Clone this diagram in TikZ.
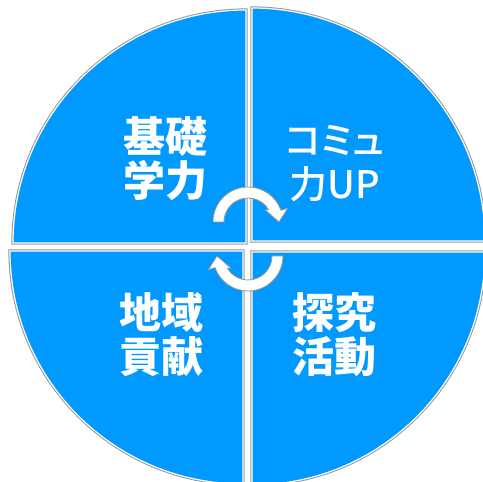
\documentclass[tikz,border=0pt]{standalone}
\usepackage{fontspec}
\newfontfamily\jpfont{Noto Sans CJK JP}
\newfontfamily\jpmedium{Noto Sans CJK JP}[UprightFont=* Medium, RawFeature=+palt]
\definecolor{quadblue}{RGB}{0,153,255}
\definecolor{edgegray}{RGB}{150,150,150}

\begin{document}
\begin{tikzpicture}[x=1pt, y=1pt,
    quadrant/.style={fill=quadblue, draw=white, line width=1.2pt,
        preaction={draw=edgegray, line width=3.2pt}},
    cyclearrow/.style={fill=white, draw=edgegray, line width=0.8pt, line join=miter},
    quadtext/.style={text=white, align=center,
        font=\jpfont\bfseries\fontsize{42}{44}\selectfont}]
    \useasboundingbox (0,0) rectangle (483,482);
    \fill[white] (0,0) rectangle (483,482);
    \clip (0,0) rectangle (483,482);

    % Quadrants
    \draw[quadrant] (246,239) -- ++(-233,0) arc[start angle=180, end angle=90, radius=233] -- cycle;
    \draw[quadrant] (252,241) -- ++(0,233) arc[start angle=90, end angle=0, radius=233] -- cycle;
    \draw[quadrant] (243,231) -- ++(0,-233) arc[start angle=270, end angle=180, radius=233] -- cycle;
    \draw[quadrant] (252,230) -- ++(233,0) arc[start angle=0, end angle=-90, radius=233] -- cycle;

    % Labels
    \node[quadtext] (basic) at (165,323) {基礎\\学力};
    \node[quadtext, font=\jpmedium\fontsize{38}{44}\selectfont] (commu) at (335,318) {コミュ\\力UP};
    \node[quadtext] (local) at (161,147) {地域\\貢献};
    \node[quadtext] (inquiry) at (334,147) {探究\\活動};

    % Cycle arrows
    \coordinate (mid) at (248,243);
    \draw[cyclearrow, shift={(248,260)}] (180:35) arc[start angle=180, end angle=19.5, radius=35]
        -- (19:42) -- (0:31) -- (35:21) -- (31:24) arc[start angle=31, end angle=180, radius=24] -- cycle;
    \draw[cyclearrow, rotate around={180:(mid)}, shift={(248,260)}] (180:35) arc[start angle=180, end angle=19.5, radius=35]
        -- (19:42) -- (0:31) -- (35:21) -- (31:24) arc[start angle=31, end angle=180, radius=24] -- cycle;
\end{tikzpicture}
\end{document}
